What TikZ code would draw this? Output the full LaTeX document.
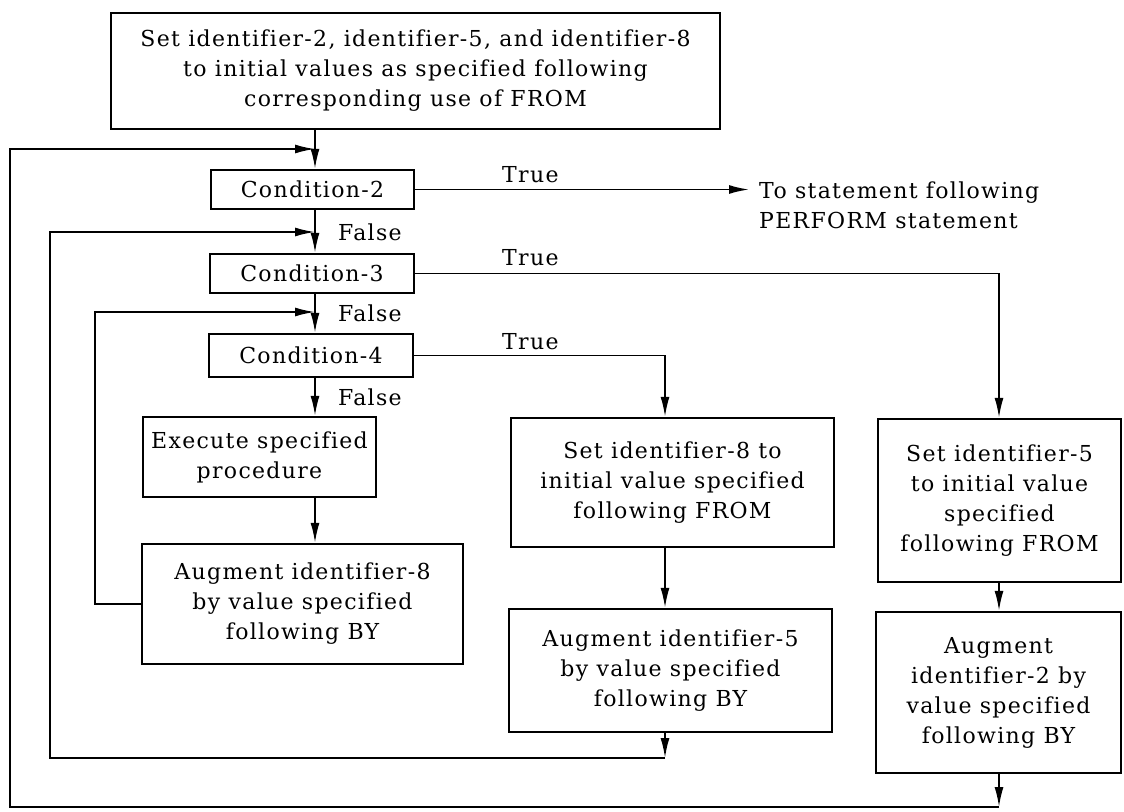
\documentclass[tikz,border=0pt]{standalone}
\usepackage{fontspec}
\setmainfont{DejaVu Serif}[LetterSpace=6, Ligatures={NoCommon}]
\usetikzlibrary{arrows.meta}
\begin{document}
\begin{tikzpicture}[x=1pt,y=-1pt,
  txt/.style={font=\fontsize{22}{30}\selectfont, align=center, inner sep=0pt},
  box/.style={txt, draw, line width=2.4pt, rectangle},
  lbl/.style={font=\fontsize{22}{30}\selectfont, inner sep=0pt, anchor=west, align=left},
  flow/.style={line width=1.8pt},
  arr/.style={flow, -{Latex[length=20pt,width=9pt]}},
]
\useasboundingbox (0,0) rectangle (1124,811);

% process boxes
\node[box, minimum width=609pt, minimum height=116pt] (top) at (415.5,71)
  {Set identifier-2, identifier-5, and identifier-8\\to initial values as specified following\\corresponding use of FROM};
\node[box, minimum width=203pt, minimum height=39pt] (c2) at (312.5,189.5) {Condition-2};
\node[box, minimum width=204pt, minimum height=39pt] (c3) at (312,273.5) {Condition-3};
\node[box, minimum width=204pt, minimum height=43pt] (c4) at (311,355.5) {Condition-4};
\node[box, minimum width=233pt, minimum height=80pt] (exec) at (259.5,457) {Execute specified\\procedure};
\node[box, minimum width=321pt, minimum height=120pt] (aug8) at (302.5,604) {Augment identifier-8\\by value specified\\following BY};
\node[box, minimum width=323pt, minimum height=129pt] (set8) at (672.5,482.5) {Set identifier-8 to\\initial value specified\\following FROM};
\node[box, minimum width=323pt, minimum height=123pt] (aug5) at (670.5,670.5) {Augment identifier-5\\by value specified\\following BY};
\node[box, minimum width=243pt, minimum height=163pt] (set5) at (999.5,500.5) {Set identifier-5\\to initial value\\specified\\following FROM};
\node[box, minimum width=245pt, minimum height=161pt] (aug2) at (998.5,692.5) {Augment\\identifier-2 by\\value specified\\following BY};

% exit text
\node[lbl] (dest) at (759,205) {To statement following\\PERFORM statement};

% branch labels
\node[lbl] (t2) at (502,175) {True};
\node[lbl] (t3) at (502,258) {True};
\node[lbl] (t4) at (502,342) {True};
\node[lbl] (f2) at (338,232) {False};
\node[lbl] (f3) at (338,313) {False};
\node[lbl] (f4) at (338,397) {False};

% junction points
\coordinate (s) at (315,0);
\coordinate (j1) at (315,149);
\coordinate (j2) at (315,232);
\coordinate (j3) at (315,312);
\coordinate (k5) at (665,0);
\coordinate (k2) at (999,0);
\coordinate (m5) at (665,758);
\coordinate (m2) at (999,807);

% main spine
\draw[arr] (top.south -| s) -- (c2.north -| s);
\draw[arr] (c2.south -| s) -- (c3.north -| s);
\draw[arr] (c3.south -| s) -- (c4.north -| s);
\draw[arr] (c4.south -| s) -- (exec.north -| s);
\draw[arr] (exec.south -| s) -- (aug8.north -| s);

% true branches
\draw[arr, shorten >=10pt] (c2.east) -- (c2.east -| dest.west);
\draw[arr] (c3.east) -| (set5.north -| k2);
\draw[arr] (c4.east) -| (set8.north -| k5);
\draw[arr] (set8.south -| k5) -- (aug5.north -| k5);
\draw[arr] (set5.south -| k2) -- (aug2.north -| k2);

% loops back
\draw[arr] (aug8.west) -- ++(-46,0) |- (j3);
\draw[arr] (aug5.south -| k5) -- (m5);
\draw[arr] (m5) -- (50,758) |- (j2);
\draw[arr] (aug2.south -| k2) -- (m2);
\draw[arr] (m2) -- (10,807) |- (j1);
\end{tikzpicture}
\end{document}
